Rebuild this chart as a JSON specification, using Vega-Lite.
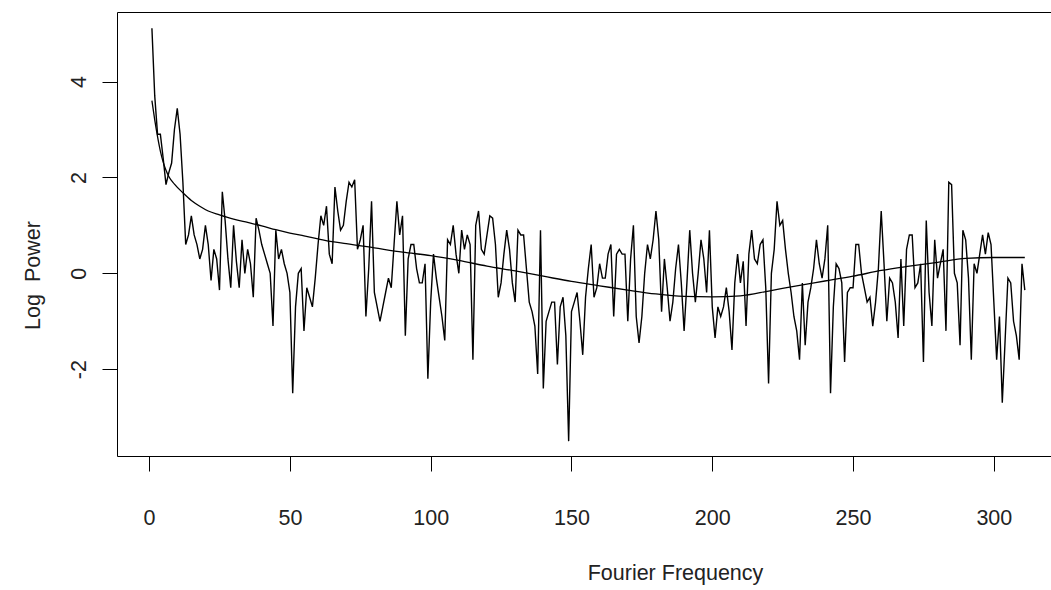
{
 "$schema": "https://vega.github.io/schema/vega-lite/v6.json",
 "autosize": "none",
 "width": 934,
 "height": 444,
 "padding": {"left": 117, "top": 12, "right": 0, "bottom": 134},
 "background": "white",
 "config": {
  "view": {"stroke": null},
  "axis": {"grid": false, "domainColor": "black", "tickColor": "black", "labelFont": "Liberation Sans", "titleFont": "Liberation Sans", "labelColor": "#222", "titleColor": "#222", "labelFontSize": 21.5, "titleFontSize": 21.5, "titleFontWeight": "normal", "tickSize": 15, "domainWidth": 1, "tickWidth": 1}
 },
 "resolve": {"axis": {"x": "independent"}},
 "layer": [
  {
   "data": {"values": [
{"k":1,"v":5.11},{"k":2,"v":3.7},{"k":3,"v":2.9},{"k":4,"v":2.9},{"k":5,"v":2.4},{"k":6,"v":1.85},{"k":7,"v":2.1},{"k":8,"v":2.3},{"k":9,"v":3.0},{"k":10,"v":3.44},
{"k":11,"v":2.9},{"k":12,"v":1.9},{"k":13,"v":0.6},{"k":14,"v":0.8},{"k":15,"v":1.2},{"k":16,"v":0.8},{"k":17,"v":0.6},{"k":18,"v":0.3},{"k":19,"v":0.5},{"k":20,"v":1.0},
{"k":21,"v":0.6},{"k":22,"v":-0.15},{"k":23,"v":0.5},{"k":24,"v":0.3},{"k":25,"v":-0.35},{"k":26,"v":1.7},{"k":27,"v":1.1},{"k":28,"v":0.3},{"k":29,"v":-0.3},{"k":30,"v":1.0},
{"k":31,"v":0.25},{"k":32,"v":-0.3},{"k":33,"v":0.7},{"k":34,"v":0.0},{"k":35,"v":0.5},{"k":36,"v":0.2},{"k":37,"v":-0.5},{"k":38,"v":1.15},{"k":39,"v":0.9},{"k":40,"v":0.6},
{"k":41,"v":0.4},{"k":42,"v":0.2},{"k":43,"v":0.0},{"k":44,"v":-1.1},{"k":45,"v":0.9},{"k":46,"v":0.3},{"k":47,"v":0.5},{"k":48,"v":0.2},{"k":49,"v":0.0},{"k":50,"v":-0.4},
{"k":51,"v":-2.5},{"k":52,"v":-0.7},{"k":53,"v":0.0},{"k":54,"v":0.1},{"k":55,"v":-1.2},{"k":56,"v":-0.3},{"k":57,"v":-0.5},{"k":58,"v":-0.7},{"k":59,"v":-0.1},{"k":60,"v":0.6},
{"k":61,"v":1.2},{"k":62,"v":1.0},{"k":63,"v":1.4},{"k":64,"v":0.4},{"k":65,"v":0.2},{"k":66,"v":1.8},{"k":67,"v":1.3},{"k":68,"v":0.9},{"k":69,"v":1.0},{"k":70,"v":1.5},
{"k":71,"v":1.9},{"k":72,"v":1.8},{"k":73,"v":1.95},{"k":74,"v":0.5},{"k":75,"v":0.7},{"k":76,"v":1.0},{"k":77,"v":-0.9},{"k":78,"v":0.1},{"k":79,"v":1.5},{"k":80,"v":-0.4},
{"k":81,"v":-0.7},{"k":82,"v":-1.0},{"k":83,"v":-0.7},{"k":84,"v":-0.4},{"k":85,"v":-0.1},{"k":86,"v":-0.3},{"k":87,"v":0.6},{"k":88,"v":1.5},{"k":89,"v":0.8},{"k":90,"v":1.2},
{"k":91,"v":-1.3},{"k":92,"v":0.3},{"k":93,"v":0.6},{"k":94,"v":0.6},{"k":95,"v":0.1},{"k":96,"v":-0.2},{"k":97,"v":-0.2},{"k":98,"v":0.2},{"k":99,"v":-2.2},{"k":100,"v":-0.6},
{"k":101,"v":0.4},{"k":102,"v":-0.1},{"k":103,"v":-0.5},{"k":104,"v":-0.9},{"k":105,"v":-1.4},{"k":106,"v":0.7},{"k":107,"v":0.6},{"k":108,"v":1.0},{"k":109,"v":0.4},{"k":110,"v":0.0},
{"k":111,"v":0.9},{"k":112,"v":0.5},{"k":113,"v":0.8},{"k":114,"v":0.6},{"k":115,"v":-1.8},{"k":116,"v":1.0},{"k":117,"v":1.3},{"k":118,"v":0.5},{"k":119,"v":0.4},{"k":120,"v":0.8},
{"k":121,"v":1.2},{"k":122,"v":1.15},{"k":123,"v":0.6},{"k":124,"v":-0.5},{"k":125,"v":-0.2},{"k":126,"v":0.4},{"k":127,"v":0.9},{"k":128,"v":0.5},{"k":129,"v":-0.2},{"k":130,"v":-0.6},
{"k":131,"v":0.9},{"k":132,"v":0.8},{"k":133,"v":0.8},{"k":134,"v":0.1},{"k":135,"v":-0.6},{"k":136,"v":-0.8},{"k":137,"v":-1.1},{"k":138,"v":-2.1},{"k":139,"v":0.9},{"k":140,"v":-2.4},
{"k":141,"v":-1.0},{"k":142,"v":-0.8},{"k":143,"v":-0.6},{"k":144,"v":-0.6},{"k":145,"v":-1.9},{"k":146,"v":-0.7},{"k":147,"v":-0.5},{"k":148,"v":-1.3},{"k":149,"v":-3.5},{"k":150,"v":-0.8},
{"k":151,"v":-0.6},{"k":152,"v":-0.4},{"k":153,"v":-1.0},{"k":154,"v":-1.7},{"k":155,"v":-0.5},{"k":156,"v":0.1},{"k":157,"v":0.6},{"k":158,"v":-0.5},{"k":159,"v":-0.3},{"k":160,"v":0.2},
{"k":161,"v":-0.1},{"k":162,"v":-0.1},{"k":163,"v":0.4},{"k":164,"v":0.6},{"k":165,"v":-0.9},{"k":166,"v":0.4},{"k":167,"v":0.5},{"k":168,"v":0.4},{"k":169,"v":0.4},{"k":170,"v":-1.0},
{"k":171,"v":0.3},{"k":172,"v":1.0},{"k":173,"v":-0.9},{"k":174,"v":-1.45},{"k":175,"v":-0.9},{"k":176,"v":0.0},{"k":177,"v":0.6},{"k":178,"v":0.3},{"k":179,"v":0.7},{"k":180,"v":1.3},
{"k":181,"v":0.7},{"k":182,"v":-0.8},{"k":183,"v":0.3},{"k":184,"v":-0.3},{"k":185,"v":-1.0},{"k":186,"v":-0.6},{"k":187,"v":0.1},{"k":188,"v":0.6},{"k":189,"v":-0.2},{"k":190,"v":-1.2},
{"k":191,"v":-0.2},{"k":192,"v":0.9},{"k":193,"v":0.0},{"k":194,"v":-0.6},{"k":195,"v":0.0},{"k":196,"v":0.7},{"k":197,"v":0.3},{"k":198,"v":-0.4},{"k":199,"v":0.9},{"k":200,"v":-0.7},
{"k":201,"v":-1.35},{"k":202,"v":-0.7},{"k":203,"v":-0.9},{"k":204,"v":-0.7},{"k":205,"v":-0.3},{"k":206,"v":-0.8},{"k":207,"v":-1.6},{"k":208,"v":-0.2},{"k":209,"v":0.4},{"k":210,"v":-0.2},
{"k":211,"v":0.25},{"k":212,"v":-1.1},{"k":213,"v":0.4},{"k":214,"v":0.9},{"k":215,"v":0.3},{"k":216,"v":0.2},{"k":217,"v":0.6},{"k":218,"v":0.7},{"k":219,"v":-0.3},{"k":220,"v":-2.3},
{"k":221,"v":0.0},{"k":222,"v":0.5},{"k":223,"v":1.5},{"k":224,"v":1.0},{"k":225,"v":1.1},{"k":226,"v":0.5},{"k":227,"v":0.0},{"k":228,"v":-0.4},{"k":229,"v":-0.9},{"k":230,"v":-1.2},
{"k":231,"v":-1.8},{"k":232,"v":-0.2},{"k":233,"v":-1.5},{"k":234,"v":-0.6},{"k":235,"v":-0.3},{"k":236,"v":0.1},{"k":237,"v":0.7},{"k":238,"v":0.2},{"k":239,"v":-0.1},{"k":240,"v":0.3},
{"k":241,"v":1.0},{"k":242,"v":-2.5},{"k":243,"v":-0.7},{"k":244,"v":0.2},{"k":245,"v":0.1},{"k":246,"v":-0.2},{"k":247,"v":-1.85},{"k":248,"v":-0.4},{"k":249,"v":-0.3},{"k":250,"v":-0.3},
{"k":251,"v":0.6},{"k":252,"v":0.6},{"k":253,"v":0.0},{"k":254,"v":-0.3},{"k":255,"v":-0.6},{"k":256,"v":-0.5},{"k":257,"v":-1.1},{"k":258,"v":-0.6},{"k":259,"v":0.1},{"k":260,"v":1.3},
{"k":261,"v":0.2},{"k":262,"v":-1.0},{"k":263,"v":-0.1},{"k":264,"v":-0.2},{"k":265,"v":-0.6},{"k":266,"v":-1.35},{"k":267,"v":0.3},{"k":268,"v":-1.1},{"k":269,"v":0.5},{"k":270,"v":0.8},
{"k":271,"v":0.8},{"k":272,"v":-0.3},{"k":273,"v":-0.2},{"k":274,"v":0.2},{"k":275,"v":-1.85},{"k":276,"v":1.1},{"k":277,"v":-0.4},{"k":278,"v":-1.1},{"k":279,"v":0.7},{"k":280,"v":-0.1},
{"k":281,"v":0.2},{"k":282,"v":0.5},{"k":283,"v":-1.2},{"k":284,"v":1.9},{"k":285,"v":1.85},{"k":286,"v":0.0},{"k":287,"v":-0.2},{"k":288,"v":-1.5},{"k":289,"v":0.9},{"k":290,"v":0.7},
{"k":291,"v":-0.1},{"k":292,"v":-1.8},{"k":293,"v":0.2},{"k":294,"v":0.0},{"k":295,"v":0.4},{"k":296,"v":0.8},{"k":297,"v":0.4},{"k":298,"v":0.85},{"k":299,"v":0.6},{"k":300,"v":-0.6},
{"k":301,"v":-1.8},{"k":302,"v":-0.9},{"k":303,"v":-2.7},{"k":304,"v":-1.4},{"k":305,"v":-0.1},{"k":306,"v":-0.2},{"k":307,"v":-1.0},{"k":308,"v":-1.3},{"k":309,"v":-1.8},{"k":310,"v":0.2},
{"k":311,"v":-0.35}
   ]},
   "mark": {"type": "line", "color": "black", "strokeWidth": 1.4, "clip": true},
   "encoding": {
    "x": {"field": "k", "type": "quantitative", "scale": {"domain": [-11.4, 320.3], "nice": false, "zero": false},
          "axis": {"title": "Fourier Frequency", "values": [0, 50, 100, 150, 200, 250, 300], "labelPadding": 36, "labelFlush": false, "titleX": 558, "titleY": 117, "titleAlign": "center", "titleBaseline": "middle"}},
    "y": {"field": "v", "type": "quantitative", "scale": {"domain": [-3.81, 5.45], "nice": false, "zero": false},
          "axis": {"title": "Log\u00a0 Power", "values": [-2, 0, 2, 4], "labelExpr": "'' + datum.value", "labelAngle": 270, "labelAlign": "center", "labelBaseline": "bottom", "labelPadding": 12, "titleX": -84, "titleY": 263, "titleAlign": "center", "titleBaseline": "middle", "titleAngle": 270}}
   }
  },
  {
   "data": {"values": [
{"k":1,"v":3.6},{"k":2,"v":3.2},{"k":3,"v":2.85},{"k":4,"v":2.55},{"k":5,"v":2.32},{"k":6,"v":2.15},{"k":7,"v":2.02},{"k":9,"v":1.86},{"k":12,"v":1.68},{"k":15,"v":1.52},{"k":18,"v":1.4},{"k":21,"v":1.3},{"k":25,"v":1.22},
{"k":30,"v":1.13},{"k":35,"v":1.06},{"k":40,"v":0.99},{"k":45,"v":0.91},{"k":50,"v":0.84},{"k":55,"v":0.78},{"k":60,"v":0.72},{"k":65,"v":0.66},{"k":70,"v":0.62},{"k":80,"v":0.53},
{"k":90,"v":0.44},{"k":100,"v":0.37},{"k":110,"v":0.27},{"k":120,"v":0.15},{"k":130,"v":0.05},{"k":140,"v":-0.06},{"k":150,"v":-0.17},{"k":160,"v":-0.26},{"k":170,"v":-0.35},{"k":180,"v":-0.43},
{"k":190,"v":-0.48},{"k":200,"v":-0.49},{"k":210,"v":-0.47},{"k":220,"v":-0.37},{"k":230,"v":-0.26},{"k":240,"v":-0.16},{"k":250,"v":-0.06},{"k":260,"v":0.06},{"k":270,"v":0.15},{"k":280,"v":0.23},
{"k":290,"v":0.31},{"k":300,"v":0.33},{"k":311,"v":0.33}
   ]},
   "mark": {"type": "line", "color": "black", "strokeWidth": 1.3, "interpolate": "monotone", "clip": true},
   "encoding": {
    "x": {"field": "k", "type": "quantitative", "scale": {"domain": [-11.4, 320.3], "nice": false, "zero": false},
          "axis": {"orient": "top", "labels": false, "ticks": false, "title": null}},
    "y": {"field": "v", "type": "quantitative"}
   }
  }
 ]
}
